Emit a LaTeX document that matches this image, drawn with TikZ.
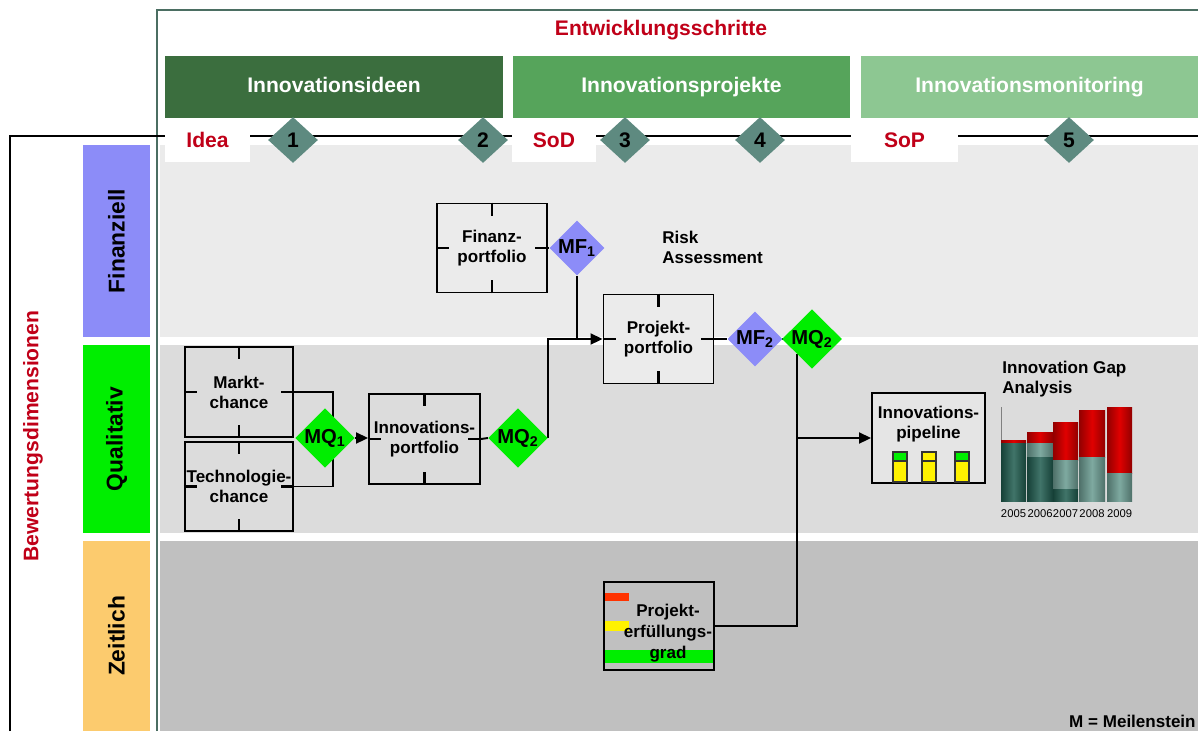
\documentclass[tikz,border=0pt]{standalone}
\usepackage{fontspec}
\setmainfont{Liberation Sans}
\usetikzlibrary{shapes.geometric,arrows.meta}
\definecolor{titlered}{HTML}{C00018}
\definecolor{framegreen}{HTML}{4B6E62}
\definecolor{phasea}{HTML}{3B6E3E}
\definecolor{phaseb}{HTML}{56A45B}
\definecolor{phasec}{HTML}{8DC792}
\definecolor{msteal}{HTML}{5E8A80}
\definecolor{finblue}{HTML}{8C8CF8}
\definecolor{qualgreen}{HTML}{00EE00}
\definecolor{timeorange}{HTML}{FCCB6E}
\definecolor{banda}{HTML}{EBEBEB}
\definecolor{bandb}{HTML}{DCDCDC}
\definecolor{bandc}{HTML}{C0C0C0}
\definecolor{gapred}{HTML}{E00000}
\definecolor{tealdark}{HTML}{1F5C4F}
\definecolor{teallight}{HTML}{70A096}
\definecolor{gradred}{HTML}{FF3300}
\pgfdeclarelayer{bands}
\pgfdeclarelayer{wires}
\pgfsetlayers{bands,wires,main}
\newcommand\hdrfont{\fontsize{12}{14}\selectfont\bfseries}
\newcommand\boxfont{\fontsize{9.7}{11.3}\selectfont\bfseries}
\newcommand\boxticks[1]{%
 \draw[tick] (#1.north) -- ++(0,13) (#1.south) -- ++(0,-13)
  (#1.west) -- ++(13,0) (#1.east) -- ++(-13,0);}
\tikzset{
 phase/.style={fill=#1, text=white, font=\hdrfont, minimum width=6.76cm, minimum height=1.24cm, inner sep=0pt, text height=8.8pt, text depth=2.2pt},
 mslabel/.style={fill=white, text=titlered, font=\hdrfont, minimum height=0.84cm, inner sep=0pt, text height=8.8pt, text depth=1pt},
 milestone/.style={diamond, fill=msteal, font=\hdrfont, minimum width=1.0cm, minimum height=0.92cm, inner sep=0pt},
 dimbox/.style={fill=#1, rotate=90, font=\fontsize{13}{15}\selectfont\bfseries, minimum height=1.34cm, inner sep=0pt},
 portfolio/.style={draw, line width=1.1pt, font=\boxfont, align=center, minimum width=2.2cm, minimum height=1.78cm, inner sep=1pt},
 gate/.style={diamond, aspect=1, fill=#1, font=\fontsize{11.5}{13}\selectfont\bfseries, inner sep=0pt, minimum width=1.08cm, minimum height=1.0cm},
 tick/.style={line width=1.4pt},
 wire/.style={line width=1.1pt},
 arrow/.style={wire, -{Triangle[length=2.4mm,width=2.2mm]}},
 note/.style={font=\boxfont, align=left, inner sep=0pt},
 yearlabel/.style={font=\fontsize{6.4}{7}\selectfont, inner sep=0pt},
 redbar/.style={left color=gapred!65!black, right color=gapred!65!black, middle color=gapred},
 lightbar/.style={left color=teallight!70!black, right color=teallight!70!black, middle color=teallight!90!white},
 darkbar/.style={left color=tealdark!70!black, right color=tealdark!70!black, middle color=tealdark!85!white},
}
\begin{document}
\begin{tikzpicture}[x=0.02cm,y=-0.02cm]
\useasboundingbox (0,0) rectangle (1198,731);
\begin{pgfonlayer}{bands}
 \fill[banda] (160,145) rectangle (1198,337);
 \fill[bandb] (160,345) rectangle (1198,533);
 \fill[bandc] (160,541) rectangle (1198,731);
\end{pgfonlayer}
% frames and time line
\draw[framegreen, line width=1.3pt] (157,731) -- (157,10) -- (1198,10);
\draw[line width=1pt] (10,731) -- (10,136) -- (1198,136);
\node[font=\hdrfont, text=titlered] (steps) at (661,30) {Entwicklungsschritte};
\node[phase=phasea] (ideen) at (334,86.5) {Innovationsideen};
\node[phase=phaseb] (projekte) at (681.5,86.5) {Innovationsprojekte};
\node[phase=phasec, minimum width=6.74cm] (monitoring) at (1029.5,86.5) {Innovationsmonitoring};
\node[mslabel, minimum width=1.7cm] (idea) at (207.5,141) {Idea};
\node[mslabel, minimum width=1.68cm] (sod) at (554,141) {SoD};
\node[mslabel, minimum width=2.14cm] (sop) at (904.5,141) {SoP};
\foreach \n/\xc in {1/293,2/483,3/625,4/760,5/1069}
  \node[milestone] (ms\n) at (\xc,140) {\n};
% dimensions
\node[dimbox=finblue, minimum width=3.84cm] (finanziell) at (116.5,241) {Finanziell};
\node[dimbox=qualgreen, minimum width=3.76cm] (qualitativ) at (116.5,439) {Qualitativ};
\node[dimbox=timeorange, minimum width=3.8cm] (zeitlich) at (116.5,636) {Zeitlich};
\node[rotate=90, font=\hdrfont, text=titlered] (dims) at (33,436) {Bewertungsdimensionen};
% finanziell
\node[portfolio] (finanz) at (492,248) {Finanz-\\portfolio};
\node[gate=finblue] (mf1) at (577,248) {MF\textsubscript{1}};
\node[note, anchor=west] (risk) at (662,247) {Risk\\Assessment};
\node[portfolio, fill=banda] (projekt) at (658.5,339) {Projekt-\\portfolio};
\node[gate=finblue, minimum width=1cm] (mf2) at (755,339) {MF\textsubscript{2}};
\node[gate=qualgreen, minimum width=1.2cm, minimum height=1.16cm] (mq2b) at (812,339) {MQ\textsubscript{2}};
% qualitativ
\node[portfolio, minimum width=2.16cm, minimum height=1.8cm] (markt) at (239,392) {Markt-\\chance};
\node[portfolio, minimum width=2.16cm] (techno) at (239,486.5) {Technologie-\\chance};
\node[gate=qualgreen] (mq1) at (325,438) {MQ\textsubscript{1}};
\node[portfolio, minimum width=2.22cm, minimum height=1.8cm] (innov) at (424.5,439) {Innovations-\\portfolio};
\node[gate=qualgreen, minimum height=1.14cm] (mq2a) at (518,438) {MQ\textsubscript{2}};
\node[portfolio, fill=black!10, minimum width=2.26cm, minimum height=1.8cm] (pipeline) at (928.5,438) {};
\node[note, align=center] (pipelinetext) at (928.5,424) {Innovations-\\pipeline};
\foreach \xa/\topc in {893/qualgreen,922/yellow,955/qualgreen} {
  \fill[yellow] (\xa,452) rectangle ++(14,30);
  \fill[\topc] (\xa,452) rectangle ++(14,9);
  \draw[black!80, line width=0.8pt] (\xa,452) rectangle ++(14,30) (\xa,461) -- ++(14,0);
}
% gap analysis
\node[note, anchor=west] (gaptitle) at (1002,379) {Innovation Gap\\Analysis};
\draw[black!50] (1001,407) -- (1001,502);
\foreach \xa/\xb/\ya/\yb/\seg in {
 1001/1026/440/443/redbar, 1001/1026/443/501/darkbar,
 1027/1053/432/443/redbar, 1027/1053/443/457/lightbar, 1027/1053/457/501/darkbar,
 1053/1078/422/460/redbar, 1053/1078/460/489/lightbar, 1053/1078/489/501/darkbar,
 1079/1105/410/457/redbar, 1079/1105/457/501/lightbar,
 1107/1132/407/473/redbar, 1107/1132/473/501/lightbar}
  \shade[\seg] (\xa,\ya) rectangle (\xb,\yb);
\foreach \yr/\xc in {2005/1013.5,2006/1040,2007/1065.5,2008/1092,2009/1119.5}
  \node[yearlabel] (y\yr) at (\xc,514) {\yr};
% zeitlich
\fill[gradred] (604,593) rectangle (629,601);
\fill[yellow] (604,621) rectangle (629,631);
\fill[qualgreen] (604,650) rectangle (714,663);
\node[portfolio, minimum height=1.76cm] (erfuell) at (659,626) {};
\node[note, align=center, font=\fontsize{9.7}{12}\selectfont\bfseries] (erfuelltext) at (668,633) {Projekt-\\erfüllungs-\\grad};
\node[font=\boxfont, anchor=base east, inner sep=0pt] (legend) at (1196,727) {M = Meilenstein};
\foreach \b in {finanz,projekt,markt,techno,innov} {\boxticks{\b}}
% connectors
\begin{pgfonlayer}{wires}
\draw[wire] (markt.east) -- ++(39,0) |- (techno.east);
\draw[arrow] (mq1.east) -- (mq1.east -| innov.west);
\draw[wire] (innov.east) -- (mq2a.west);
\draw[arrow] (mq2a.east) |- (projekt.west);
\draw[wire] (finanz.east) -- (mf1.west);
\draw[wire] (mf1.south) -- (mf1.south |- projekt.west);
\draw[wire] (projekt.east) -- (mf2.west);
\draw[wire] (mf2.east) -- (mq2b.west);
\coordinate (split) at (mq2b.south west |- pipeline.west);
\draw[wire] (mq2b.south west) |- (erfuell.east);
\draw[arrow] (split) -- (pipeline.west);
\end{pgfonlayer}
\end{tikzpicture}
\end{document}
